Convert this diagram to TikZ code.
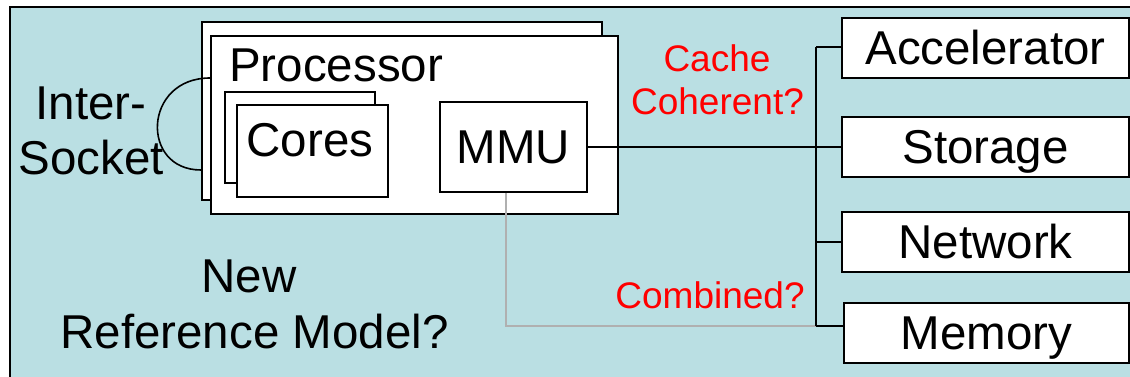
\documentclass[tikz,border=0pt]{standalone}
\usepackage{fontspec}
\setmainfont{Liberation Sans}
\definecolor{panel}{RGB}{186,223,227}
\definecolor{wire}{RGB}{176,176,176}
\definecolor{qred}{RGB}{255,0,0}
\begin{document}
\begin{tikzpicture}[x=1pt,y=-1pt,
  box/.style={draw=black,fill=white,line width=2pt,inner sep=0pt,
    font=\fontsize{47.5}{54}\selectfont,text height=33pt,text depth=0pt},
  big/.style={inner sep=0pt,anchor=base,font=\fontsize{47.5}{54}\selectfont},
  ask/.style={inner sep=0pt,anchor=base,text=qred,font=\fontsize{37}{43}\selectfont},
  link/.style={draw=black,line width=1.6pt},
  graylink/.style={draw=wire,line width=1.6pt}]
\useasboundingbox (0,0) rectangle (1130,377);
% panel
\fill[white] (0,0) rectangle (1130,377);
\fill[panel] (10,7) rectangle (1132,379);
\draw[line width=2pt] (10,379) -- (10,7) -- (1132,7);

% processor package
\node[box,minimum width=400,minimum height=178] (procback) at (402,111) {};
\node[box,minimum width=407,minimum height=178] (proc) at (414.5,125) {};
\node[big,anchor=base west] (proclabel) at (229,82) {Processor};
\node[box,minimum width=150,minimum height=91] (coresback) at (300,137.5) {};
\node[box,minimum width=151,minimum height=92] (cores) at (312.5,151) {};
\node[big] (coreslabel) at (310,157) {Cores};
\node[box,minimum width=147,minimum height=90] (mmu) at (513.5,147) {MMU};

% devices
\node[box,minimum width=287,minimum height=60] (acc) at (985.5,48) {Accelerator};
\node[box,minimum width=287,minimum height=60] (sto) at (985.5,147) {Storage};
\node[box,minimum width=287,minimum height=60] (net) at (985.5,242) {Network};
\node[box,minimum width=285,minimum height=60] (mem) at (986.5,333) {Memory};

% bus
\coordinate (bustop) at (816,47);
\coordinate (busbot) at (816,326);
\coordinate (busnet) at (816,242);
\draw[graylink] ([xshift=-7.5pt]mmu.south) |- (busbot);
\draw[link] (bustop) -- (busbot);
\draw[link] (bustop) -- (bustop -| acc.west);
\draw[link] (busnet) -- (net.west);
\draw[link] (busbot) -- (busbot -| mem.west);
\draw[link] (mmu.east) -- (sto.west);

% inter-socket link
\draw[line width=1.6pt] ([yshift=47pt]proc.west) .. controls (143,78) and (140,170) .. ([yshift=-59pt]procback.west);

% labels
\node[big] (inter1) at (91,120) {Inter-};
\node[big] (inter2) at (91.5,175) {Socket};
\node[big] (new1) at (249,292) {New};
\node[big] (new2) at (254.5,348) {Reference Model?};
\node[ask] (cc1) at (717,72) {Cache};
\node[ask] (cc2) at (717.5,115) {Coherent?};
\node[ask] (comb) at (710,308) {Combined?};
\end{tikzpicture}
\end{document}
